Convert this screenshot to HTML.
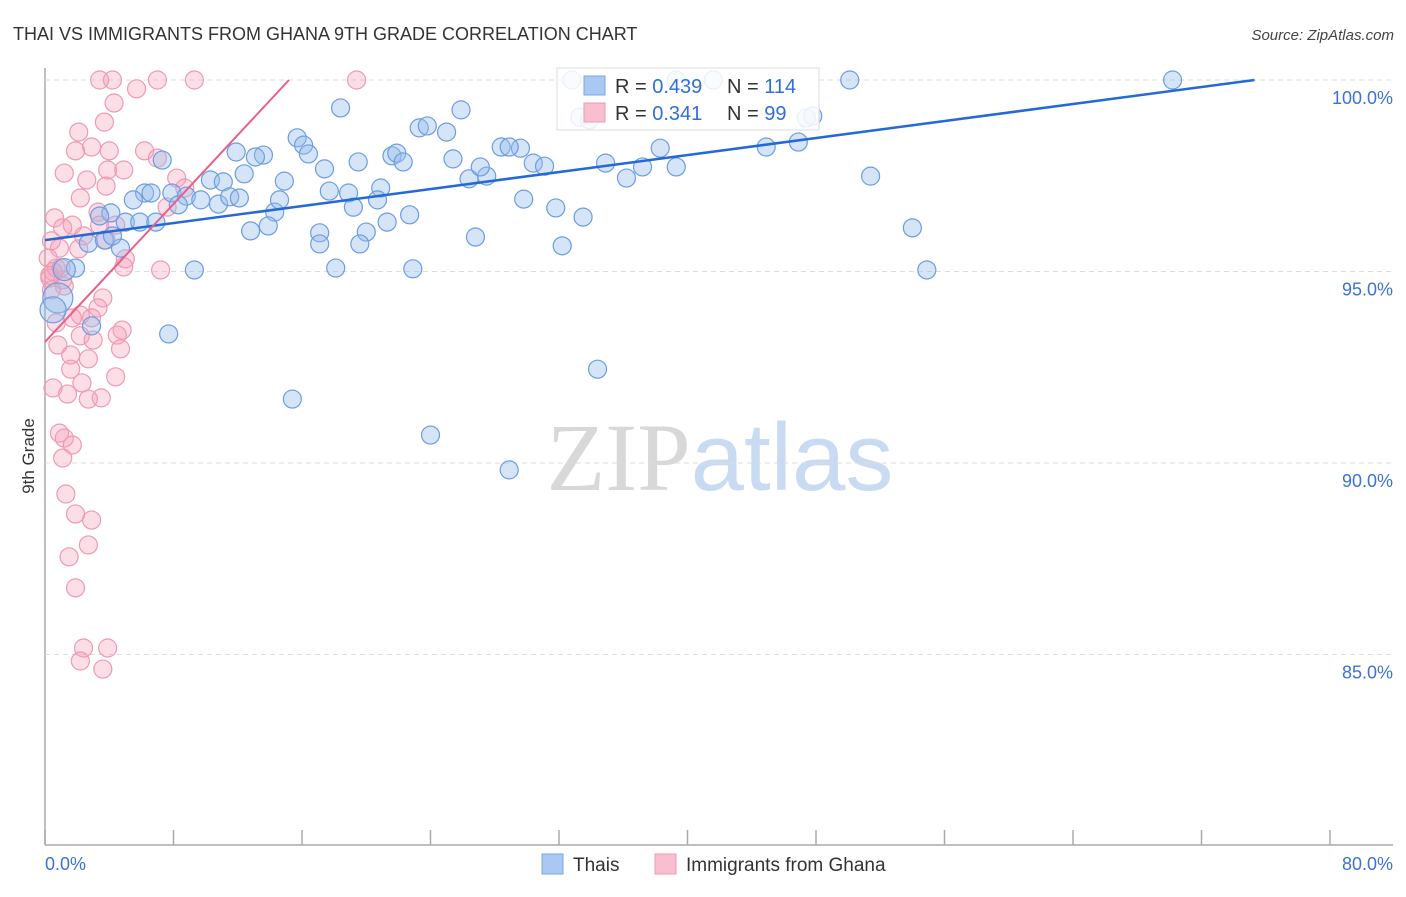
<!DOCTYPE html>
<html><head><meta charset="utf-8"><style>
body{margin:0;background:#fff;font-family:"Liberation Sans",sans-serif}
svg text{font-family:"Liberation Sans",sans-serif}
</style></head><body>
<svg id="chart" width="1406" height="892" xmlns="http://www.w3.org/2000/svg">
<text x="13" y="40" font-size="18" fill="#333">THAI VS IMMIGRANTS FROM GHANA 9TH GRADE CORRELATION CHART</text>
<text x="1394" y="40" font-size="15" fill="#444" text-anchor="end" font-style="italic">Source: ZipAtlas.com</text>
<text x="720" y="490" font-size="96" text-anchor="middle"><tspan fill="#d8d8d8" font-family="Liberation Serif">ZIP</tspan><tspan fill="#c9dbf3">atlas</tspan></text>
<text transform="translate(34,456) rotate(-90)" font-size="17" fill="#333" text-anchor="middle">9th Grade</text>
<g id="grid"></g><g id="pts"></g><g id="lines"></g>
<g>
<rect x="557" y="68" width="262" height="62" fill="#fff" fill-opacity="0.85" stroke="#ddd"/>
<rect x="584" y="76" width="21" height="19" fill="#a9c8f2" stroke="#7aa6e6"/>
<rect x="584" y="103" width="21" height="19" fill="#f8bfd0" stroke="#ef9ab4"/>
<text x="615" y="93" font-size="20" fill="#333">R = <tspan fill="#2f6fd6">0.439</tspan></text>
<text x="727" y="93" font-size="20" fill="#333">N = <tspan fill="#2f6fd6">114</tspan></text>
<text x="615" y="120" font-size="20" fill="#333">R =  <tspan fill="#2f6fd6">0.341</tspan></text>
<text x="727" y="120" font-size="20" fill="#333">N =  <tspan fill="#2f6fd6">99</tspan></text>
</g>
<g>
<rect x="542" y="854" width="21" height="20" fill="#a9c8f2" stroke="#7aa6e6"/>
<text x="573" y="871" font-size="19" fill="#333">Thais</text>
<rect x="655" y="854" width="21" height="20" fill="#f8bfd0" stroke="#ef9ab4"/>
<text x="686" y="871" font-size="19" fill="#333">Immigrants from Ghana</text>
</g>
</svg>
<script>
const yTicks=[100,95,90,85];
const xTickVals=[0,8,16,24,32,40,48,56,64,72,80];
const blueX=[70.2,50.1,32.8,41.6,39.3,18.4,25.9,15.7,16.1,16.4,11.9,13.6,13.1,23.3,23.8,25.0,7.3,19.5,21.6,21.9,22.3,25.4,17.4,12.4,14.9,10.3,11.1,26.4,27.5,27.1,28.4,29.6,28.9,30.4,31.1,34.9,36.2,37.2,38.3,39.3,44.9,46.9,51.4,20.9,17.7,18.9,6.2,6.6,7.9,8.8,9.7,10.8,11.5,12.1,8.3,14.3,14.6,19.2,20.7,22.7,21.3,20.0,17.1,12.8,13.9,5.5,4.1,5.0,5.9,6.9,29.8,31.8,33.5,26.8,19.6,17.1,32.2,54.0,54.9,9.3,18.1,22.9,1.9,2.7,4.7,3.7,0.8,2.9,7.7,34.4,15.4,24.0,28.9,47.4,47.8,33.9,33.3,3.4,4.2,0.5,1.2];
const blueY=[100,100,100,100,100,99.27,99.22,98.49,98.30,98.07,98.12,98.04,97.99,98.75,98.80,98.64,97.91,97.86,98.02,98.09,97.86,97.94,97.68,97.55,97.36,97.39,97.34,97.42,97.49,97.73,98.25,98.22,98.25,97.83,97.75,97.83,97.44,97.73,98.22,97.73,98.25,98.38,97.49,97.18,97.10,97.05,97.05,97.05,97.05,96.97,96.87,96.76,96.95,96.92,96.74,96.55,96.87,96.68,96.87,96.48,96.29,96.03,96.01,96.06,96.19,96.87,96.53,96.29,96.29,96.29,96.89,96.66,96.42,95.90,95.72,95.72,95.67,96.14,95.04,95.04,95.09,95.07,95.09,95.74,95.61,95.82,94.31,93.58,93.37,92.45,91.67,90.73,89.82,99.01,99.06,98.96,99.03,96.45,95.93,94.0,95.05];
const blueR=[9,9,9,9,9,9,9,9,9,9,9,9,9,9,9,9,9,9,9,9,9,9,9,9,9,9,9,9,9,9,9,9,9,9,9,9,9,9,9,9,9,9,9,9,9,9,9,9,9,9,9,9,9,9,9,9,9,9,9,9,9,9,9,9,9,9,9,9,9,9,9,9,9,9,9,9,9,9,9,9,9,9,9,9,9,9,15,9,9,9,9,9,9,9,9,9,9,9,9,13,11];
const pinkX=[3.4,4.2,7.0,9.3,19.4,5.7,4.3,3.7,2.1,2.9,1.9,4.0,1.2,2.6,6.2,7.0,3.9,4.9,3.8,2.2,8.2,8.7,7.6,0.6,1.7,1.1,3.3,3.4,4.4,3.8,2.4,0.4,0.9,2.1,5.0,4.9,7.2,0.2,0.7,0.3,1.1,1.2,0.4,3.6,3.3,2.2,1.7,0.7,2.9,4.8,4.5,2.2,3.0,0.8,1.6,4.7,2.7,1.6,2.3,4.4,0.5,1.4,3.5,2.7,0.9,1.2,1.7,1.1,1.3,1.9,2.9,2.7,1.5,1.9,2.4,3.9,2.2,3.6,0.5,0.3,1.0];
const pinkY=[100,100,100,100,100,99.77,99.40,98.90,98.64,98.25,98.15,98.15,97.57,97.39,98.15,97.96,97.65,97.65,97.23,96.92,97.44,97.18,96.68,96.40,96.21,96.14,96.55,96.21,96.21,95.82,95.93,95.80,95.61,95.59,95.33,95.12,95.04,95.35,95.09,94.83,94.78,94.62,94.52,94.31,94.05,93.86,93.79,93.66,93.79,93.47,93.34,93.32,93.21,93.08,92.82,92.98,92.72,92.45,92.09,92.25,91.96,91.80,91.70,91.67,90.78,90.65,90.47,90.13,89.19,88.67,88.51,87.86,87.55,86.74,85.17,85.17,84.83,84.62,95.0,94.9,95.1];
const blueLine=[0,95.82,75.3,100];
const pinkLine=[0,93.16,15.19,100];
const NS='http://www.w3.org/2000/svg';
const xs=v=>45+v/80*1285, ys=v=>80+(100-v)*38.3;
const grid=document.getElementById('grid'),pts=document.getElementById('pts'),lines=document.getElementById('lines');
function mk(tag,at,parent){const e=document.createElementNS(NS,tag);for(const k in at)e.setAttribute(k,at[k]);parent.appendChild(e);return e;}
let ax=mk('line',{x1:45,y1:68,x2:45,y2:845,stroke:'#aaa','stroke-width':1.5},grid);


let bx=mk('line',{x1:45,y1:845,x2:1393,y2:845,stroke:'#aaa','stroke-width':1.5},grid);


yTicks.forEach(t=>{
 const g=mk('line',{x1:45,x2:1393,y1:ys(t),y2:ys(t),stroke:'#ddd','stroke-dasharray':'5,4'},grid);
 
 
 const l=mk('text',{x:1393,y:ys(t)+24,'font-size':18,fill:'#3a72d8','text-anchor':'end'},grid);l.textContent=t.toFixed(1)+'%';
 
 
});
xTickVals.forEach(t=>{
 const k=mk('line',{x1:xs(t),x2:xs(t),y1:830,y2:845,stroke:'#aaa','stroke-width':1.5},grid);
 
 
});
[[0,'0.0%','start',45],[80,'80.0%','end',1393]].forEach(a=>{
 const l=mk('text',{x:a[3],y:870,'font-size':18,fill:'#3a72d8','text-anchor':a[2]},grid);l.textContent=a[1];
 
 
});
pinkX.forEach((x,i)=>{
 const c=mk('circle',{cx:xs(x),cy:ys(pinkY[i]),r:9,fill:'rgba(245,160,185,0.35)',stroke:'#ee9ab2','stroke-width':1.2},pts);
 
 
});
blueX.forEach((x,i)=>{
 const c=mk('circle',{cx:xs(x),cy:ys(blueY[i]),r:blueR[i]||9,fill:'rgba(150,188,236,0.4)',stroke:'#6b9de2','stroke-width':1.2},pts);
 
 
});
const bl=mk('line',{x1:xs(blueLine[0]),y1:ys(blueLine[1]),x2:xs(blueLine[2]),y2:ys(blueLine[3]),stroke:'#2469d6','stroke-width':2.5},lines);


const pl=mk('line',{x1:xs(pinkLine[0]),y1:ys(pinkLine[1]),x2:xs(pinkLine[2]),y2:ys(pinkLine[3]),stroke:'#e8608a','stroke-width':2},lines);


</script>
</body></html>
